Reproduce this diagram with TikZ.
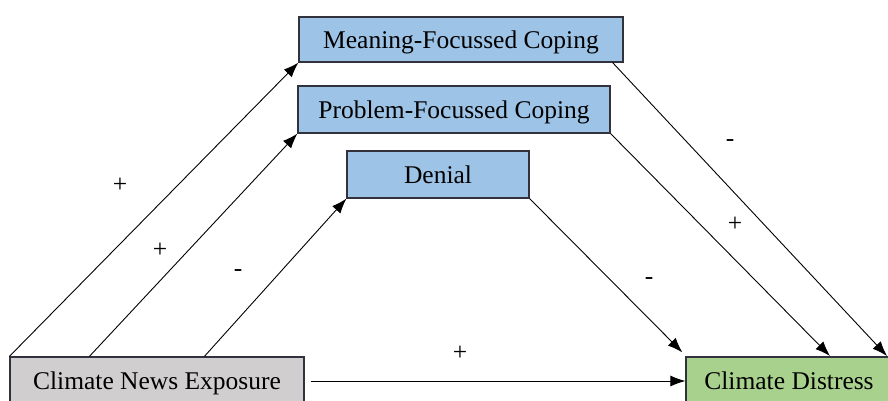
\documentclass[tikz,border=0pt]{standalone}
\usepackage{fontspec}
\setmainfont{Liberation Serif}
\usetikzlibrary{arrows.meta,calc}
\definecolor{boxblue}{RGB}{157,195,230}
\definecolor{boxgreen}{RGB}{169,209,142}
\definecolor{boxgray}{RGB}{208,206,206}
\definecolor{edgegray}{RGB}{50,50,60}
\begin{document}
\begin{tikzpicture}[x=1pt,y=-1pt,
  box/.style={draw=edgegray,line width=1.2pt,inner sep=0pt,text depth=0pt,font=\fontsize{25.5}{30}\selectfont,anchor=center},
  conn/.style={line width=0.9pt,-{Latex[length=15pt,width=11pt]}},
  sign/.style={font=\fontsize{25.5}{30}\selectfont,inner sep=0pt}]
\useasboundingbox (0,0) rectangle (888,401);
\begin{scope}
\clip (0,0) rectangle (888,401);
\node[box,fill=boxblue,minimum width=324pt,minimum height=45pt] (mfc) at (461,39.5) {Meaning-Focussed Coping};
\node[box,fill=boxblue,minimum width=312pt,minimum height=47pt] (pfc) at (454,109.5) {Problem-Focussed Coping};
\node[box,fill=boxblue,minimum width=182pt,minimum height=47pt] (den) at (438,174.5) {Denial};
\node[box,fill=boxgray,minimum width=294pt,minimum height=48pt] (cne) at (157,381) {Climate News Exposure};
\node[box,fill=boxgreen,minimum width=206pt,minimum height=48pt] (cd) at (789,381) {Climate Distress};

\coordinate (s1) at (cne.north west);
\coordinate (s2) at ($(cne.north west)+(80,0)$);
\coordinate (s3) at ($(cne.north west)+(195,0)$);
\coordinate (r1) at ($(mfc.south east)+(-11,0)$);
\coordinate (e1) at (887,356);
\coordinate (e2) at (830,356);
\coordinate (e3) at ($(cd.north west)+(-3,-4)$);
\coordinate (c0) at ($(cne.east)+(6,0)$);

\draw[conn] (s1) -- (mfc.south west);
\draw[conn] (s2) -- (pfc.south west);
\draw[conn] (s3) -- (den.south west);
\draw[conn] (r1) -- (e1);
\draw[conn] (pfc.south east) -- (e2);
\draw[conn] (den.south east) -- (e3);
\draw[conn] (c0) -- (cd.west);

\node[sign] (l1) at (120,185) {+};
\node[sign] (l2) at (160,250) {+};
\node[sign] (l3) at (238,273) {-};
\node[sign] (l4) at (460,353) {+};
\node[sign] (l5) at (730,143) {-};
\node[sign] (l6) at (735,224) {+};
\node[sign] (l7) at (649,281) {-};
\end{scope}
\end{tikzpicture}
\end{document}
